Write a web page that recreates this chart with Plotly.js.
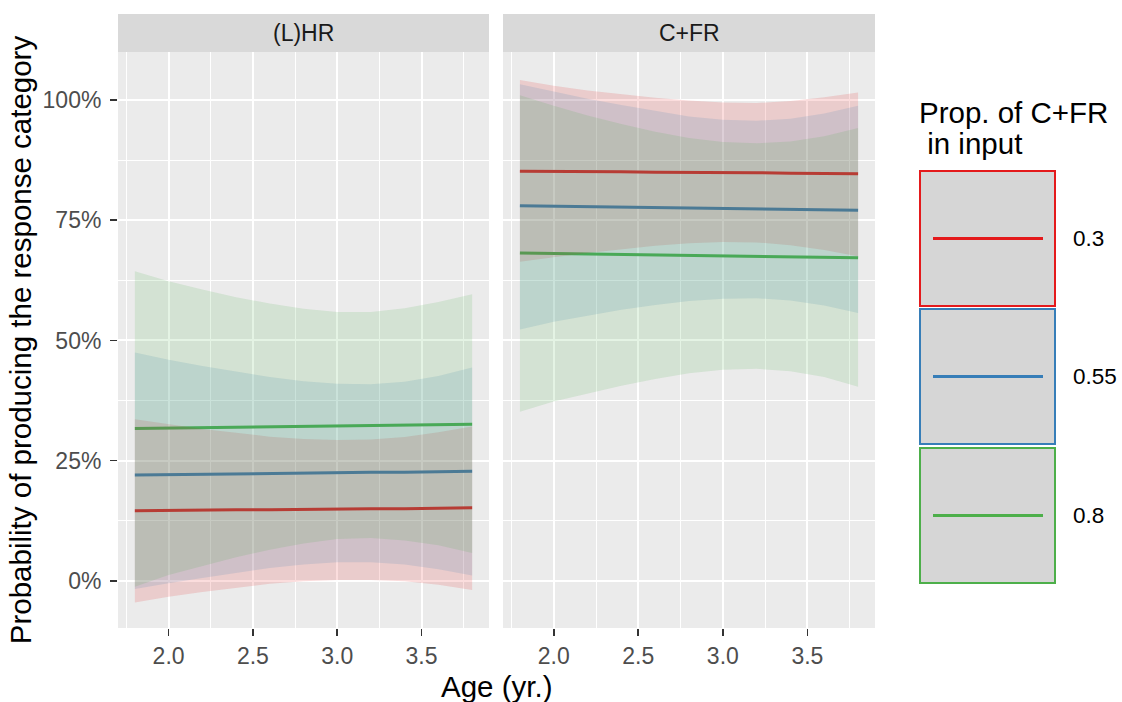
<!DOCTYPE html>
<html><head><meta charset="utf-8">
<script src="https://cdn.plot.ly/plotly-3.0.1.min.js"></script>
<style>html,body{margin:0;padding:0;background:#fff;} #chart{width:1122px;height:702px;}</style>
</head><body><div id="chart"></div>
<script>
// ---------------- data ----------------
const ages = [1.8, 2.0, 2.2, 2.4, 2.6, 2.8, 3.0, 3.2, 3.4, 3.6, 3.8];
const panels = ["(L)HR", "C+FR"];
const groups = ["0.3", "0.55", "0.8"];
const groupColors = ["#E41A1C", "#377EB8", "#4DAF4A"];
const groupFills = ["rgba(228,26,28,0.15)", "rgba(55,126,184,0.15)", "rgba(77,175,74,0.15)"];

// (L)HR panel (percent)
const lhr_fit_03  = [14.6, 14.7, 14.7, 14.8, 14.8, 14.9, 14.9, 15.0, 15.0, 15.1, 15.2];
const lhr_lo_03   = [-4.5, -3.3, -2.3, -1.4, -0.6, -0.1, 0.2, 0.2, -0.1, -0.8, -1.9];
const lhr_hi_03   = [33.6, 32.6, 31.6, 30.8, 30.0, 29.5, 29.3, 29.4, 29.9, 30.9, 32.1];
const lhr_fit_055 = [22.0, 22.1, 22.2, 22.3, 22.4, 22.4, 22.5, 22.6, 22.6, 22.7, 22.8];
const lhr_lo_055  = [-1.7, -0.5, 0.6, 1.7, 2.7, 3.4, 3.9, 3.9, 3.4, 2.4, 1.1];
const lhr_hi_055  = [47.5, 46.0, 44.7, 43.5, 42.4, 41.5, 41.0, 40.9, 41.4, 42.6, 44.4];
const lhr_fit_08  = [31.7, 31.8, 31.9, 32.0, 32.1, 32.2, 32.2, 32.3, 32.4, 32.5, 32.6];
const lhr_lo_08   = [-1.2, 1.2, 3.1, 4.9, 6.5, 7.8, 8.7, 8.9, 8.4, 7.4, 5.8];
const lhr_hi_08   = [64.4, 62.3, 60.6, 59.0, 57.7, 56.6, 55.9, 55.9, 56.7, 58.0, 59.6];

// C+FR panel (percent)
const cfr_fit_03  = [85.2, 85.2, 85.1, 85.1, 85.0, 85.0, 84.9, 84.9, 84.8, 84.8, 84.7];
const cfr_lo_03   = [66.4, 67.3, 68.2, 69.0, 69.7, 70.2, 70.5, 70.4, 69.8, 68.8, 67.5];
const cfr_hi_03   = [104.2, 103.0, 102.0, 101.2, 100.5, 99.9, 99.5, 99.4, 99.8, 100.6, 101.6];
const cfr_fit_055 = [78.0, 77.9, 77.8, 77.7, 77.6, 77.6, 77.5, 77.4, 77.3, 77.2, 77.1];
const cfr_lo_055  = [52.3, 53.9, 55.2, 56.4, 57.4, 58.2, 58.7, 58.8, 58.3, 57.3, 55.7];
const cfr_hi_055  = [103.3, 101.8, 100.3, 99.0, 97.8, 96.6, 95.9, 95.7, 96.1, 97.2, 98.8];
const cfr_fit_08  = [68.2, 68.1, 68.0, 67.9, 67.8, 67.7, 67.7, 67.6, 67.5, 67.4, 67.2];
const cfr_lo_08   = [35.2, 37.3, 39.0, 40.6, 42.0, 43.2, 43.9, 44.1, 43.6, 42.4, 40.4];
const cfr_hi_08   = [101.0, 98.8, 96.8, 95.0, 93.4, 92.1, 91.3, 91.0, 91.4, 92.5, 94.2];

const xTickVals = [2.0, 2.5, 3.0, 3.5];
const xTickText = ["2.0", "2.5", "3.0", "3.5"];
const yTickVals = [0, 25, 50, 75, 100];
const yTickText = ["0%", "25%", "50%", "75%", "100%"];

const xTitle = "Age (yr.)";
const yTitle = "Probability of producing the response category";
const legendTitleLines = ["Prop. of C+FR", "\u00a0in input"];

// ---------------- build ----------------
const panelData = [
  {fit: [lhr_fit_03, lhr_fit_055, lhr_fit_08], lo: [lhr_lo_03, lhr_lo_055, lhr_lo_08], hi: [lhr_hi_03, lhr_hi_055, lhr_hi_08]},
  {fit: [cfr_fit_03, cfr_fit_055, cfr_fit_08], lo: [cfr_lo_03, cfr_lo_055, cfr_lo_08], hi: [cfr_hi_03, cfr_hi_055, cfr_hi_08]}
];

const traces = [];
panelData.forEach((p, pi) => {
  const xa = pi === 0 ? 'x' : 'x2';
  const ya = pi === 0 ? 'y' : 'y2';
  // lines first (ribbons drawn above them, as in the original)
  groups.forEach((g, gi) => {
    traces.push({
      type: 'scatter', mode: 'lines', x: ages, y: p.fit[gi], xaxis: xa, yaxis: ya,
      line: {color: groupColors[gi], width: 3}, showlegend: false, hoverinfo: 'skip'
    });
  });
  groups.forEach((g, gi) => {
    const xs = ages.concat(ages.slice().reverse());
    const ys = p.hi[gi].concat(p.lo[gi].slice().reverse());
    traces.push({
      type: 'scatter', mode: 'lines', x: xs, y: ys, xaxis: xa, yaxis: ya,
      fill: 'toself', fillcolor: groupFills[gi], line: {width: 0, color: 'rgba(0,0,0,0)'},
      showlegend: false, hoverinfo: 'skip'
    });
  });
});

const W = 1122, H = 702;
const mL = 118, mR = 247, mT = 14, mB = 74;
const pw = W - mL - mR, ph = H - mT - mB;
const px = v => (v - mL) / pw;
const py = v => (H - mB - v) / ph;

const yDomTop = py(52);
const font = "Liberation Sans, Arial, Helvetica, sans-serif";

const xBase = {
  range: [1.7, 3.9], tickvals: xTickVals, ticktext: xTickText,
  ticks: 'outside', ticklen: 7, tickwidth: 1.6, tickcolor: '#333333',
  tickfont: {family: font, size: 23, color: '#4D4D4D'},
  showgrid: true, gridcolor: '#FFFFFF', gridwidth: 2, zeroline: false, showline: false,
  minor: {tick0: 1.75, dtick: 0.5, showgrid: true, gridcolor: '#FFFFFF', gridwidth: 1, ticks: ''},
  fixedrange: true
};
const yBase = {
  range: [-9.8, 110], tickvals: yTickVals, ticktext: yTickText,
  showgrid: true, gridcolor: '#FFFFFF', gridwidth: 2, zeroline: false, showline: false,
  minor: {tick0: 12.5, dtick: 25, showgrid: true, gridcolor: '#FFFFFF', gridwidth: 1, ticks: ''},
  domain: [0, yDomTop], fixedrange: true
};

const layout = {
  width: W, height: H,
  margin: {l: mL, r: mR, t: mT, b: mB, pad: 0},
  paper_bgcolor: '#FFFFFF', plot_bgcolor: '#EBEBEB',
  showlegend: false,
  font: {family: font},
  xaxis: Object.assign({}, xBase, {domain: [0, px(489)], anchor: 'y'}),
  xaxis2: Object.assign({}, xBase, {domain: [px(503), 1], anchor: 'y2'}),
  yaxis: Object.assign({}, yBase, {
    anchor: 'x', ticks: 'outside', ticklen: 7, tickwidth: 1.6, tickcolor: '#333333',
    ticklabelstandoff: 4,
    tickfont: {family: font, size: 23, color: '#4D4D4D'},
    title: {text: yTitle, font: {family: font, size: 29.5, color: '#000000'}, standoff: 2}
  }),
  yaxis2: Object.assign({}, yBase, {anchor: 'x2', matches: 'y', showticklabels: false, ticks: ''}),
  shapes: [],
  annotations: []
};

// strips
['x', 'x2'].forEach((xa, i) => {
  layout.shapes.push({type: 'rect', xref: xa + ' domain', yref: 'paper', x0: 0, x1: 1,
    y0: yDomTop, y1: py(14), fillcolor: '#D9D9D9', line: {width: 0}, layer: 'below'});
  layout.annotations.push({xref: xa + ' domain', yref: 'paper', x: 0.5, y: py(33),
    text: panels[i], showarrow: false, xanchor: 'center', yanchor: 'middle',
    font: {family: font, size: 23, color: '#1A1A1A'}});
});

// x title
layout.annotations.push({xref: 'paper', yref: 'paper', x: px((118 + 875) / 2), y: py(686),
  text: xTitle, showarrow: false, xanchor: 'center', yanchor: 'middle',
  font: {family: font, size: 29.5, color: '#000000'}});

// legend title (two lines)
legendTitleLines.forEach((t, i) => {
  layout.annotations.push({xref: 'paper', yref: 'paper', x: px(917), y: py(113 + 30 * i),
    text: t, showarrow: false, xanchor: 'left', yanchor: 'middle', align: 'left',
    font: {family: font, size: 29.5, color: '#000000'}});
});
const boxTops = [171, 309, 448];
const boxH = 135;
groups.forEach((g, gi) => {
  const t = boxTops[gi], b = t + boxH, mid = (t + b) / 2;
  layout.shapes.push({type: 'rect', xref: 'paper', yref: 'paper', x0: px(920), x1: px(1055),
    y0: py(b), y1: py(t), fillcolor: '#D6D6D6', line: {color: groupColors[gi], width: 2}});
  layout.shapes.push({type: 'line', xref: 'paper', yref: 'paper', x0: px(933), x1: px(1043),
    y0: py(mid), y1: py(mid), line: {color: groupColors[gi], width: 3}});
  layout.annotations.push({xref: 'paper', yref: 'paper', x: px(1071), y: py(mid),
    text: g, showarrow: false, xanchor: 'left', yanchor: 'middle',
    font: {family: font, size: 22.5, color: '#000000'}});
});

Plotly.newPlot('chart', traces, layout, {staticPlot: true, displayModeBar: false});
</script>
</body></html>
